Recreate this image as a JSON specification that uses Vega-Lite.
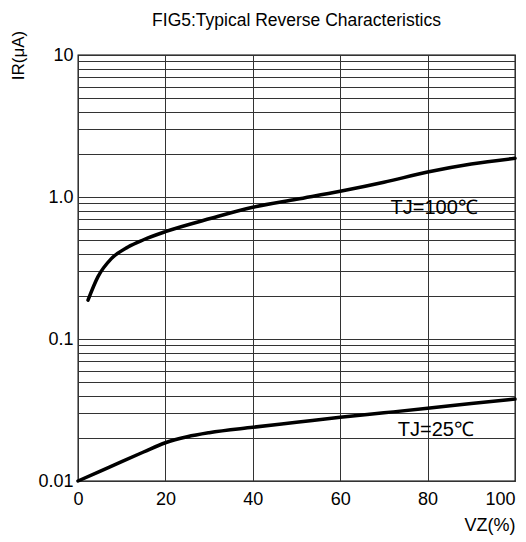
{
  "$schema": "https://vega.github.io/schema/vega-lite/v6.json",
  "width": 437,
  "height": 426,
  "autosize": "none",
  "padding": {"left": 78, "top": 55, "right": 11, "bottom": 61},
  "background": "white",
  "title": {
    "text": "FIG5:Typical Reverse Characteristics",
    "fontSize": 17.5,
    "font": "Liberation Sans",
    "fontWeight": "normal",
    "color": "#000",
    "frame": "group",
    "anchor": "middle",
    "offset": 1
  },
  "config": {
    "view": {"stroke": "#000", "strokeWidth": 1.3},
    "font": "Liberation Sans"
  },
  "datasets": {
    "curves": [
      {"series": "TJ=100", "vz": 2.29, "ir": 0.188},
      {"series": "TJ=100", "vz": 4.58, "ir": 0.275},
      {"series": "TJ=100", "vz": 7.63, "ir": 0.368},
      {"series": "TJ=100", "vz": 11.45, "ir": 0.445},
      {"series": "TJ=100", "vz": 15, "ir": 0.5},
      {"series": "TJ=100", "vz": 20, "ir": 0.57},
      {"series": "TJ=100", "vz": 30.5, "ir": 0.708},
      {"series": "TJ=100", "vz": 40, "ir": 0.846},
      {"series": "TJ=100", "vz": 50, "ir": 0.964},
      {"series": "TJ=100", "vz": 60, "ir": 1.097},
      {"series": "TJ=100", "vz": 70, "ir": 1.27},
      {"series": "TJ=100", "vz": 80, "ir": 1.5},
      {"series": "TJ=100", "vz": 90, "ir": 1.708},
      {"series": "TJ=100", "vz": 100, "ir": 1.873},
      {"series": "TJ=25", "vz": 0, "ir": 0.01},
      {"series": "TJ=25", "vz": 5, "ir": 0.0117},
      {"series": "TJ=25", "vz": 10, "ir": 0.0137},
      {"series": "TJ=25", "vz": 15, "ir": 0.016},
      {"series": "TJ=25", "vz": 20, "ir": 0.0186},
      {"series": "TJ=25", "vz": 25, "ir": 0.0205},
      {"series": "TJ=25", "vz": 30, "ir": 0.0219},
      {"series": "TJ=25", "vz": 40, "ir": 0.0239},
      {"series": "TJ=25", "vz": 50, "ir": 0.0259},
      {"series": "TJ=25", "vz": 60, "ir": 0.0281},
      {"series": "TJ=25", "vz": 70, "ir": 0.0302},
      {"series": "TJ=25", "vz": 80, "ir": 0.0325},
      {"series": "TJ=25", "vz": 90, "ir": 0.0351},
      {"series": "TJ=25", "vz": 100, "ir": 0.0378}
    ],
    "labels": [
      {"label": "TJ=100℃", "vz": 81.5, "ir": 0.83},
      {"label": "TJ=25℃", "vz": 81.9, "ir": 0.0227}
    ]
  },
  "layer": [
    {
      "data": {"name": "curves"},
      "mark": {"type": "line", "color": "#000", "strokeWidth": 3.5, "interpolate": "monotone", "strokeCap": "round"},
      "encoding": {
        "x": {
          "field": "vz",
          "type": "quantitative",
          "scale": {"domain": [0, 100], "nice": false},
          "axis": {
            "values": [0, 20, 40, 60, 80, 100],
            "title": "VZ(%)",
            "titleFont": "Liberation Sans",
            "titleFontSize": 18,
            "titleFontWeight": "normal",
            "titleColor": "#000",
            "titleAnchor": "end",
            "titleAlign": "right",
            "titleBaseline": "middle",
            "titleX": 437,
            "titleY": 44,
            "labelFont": "Liberation Sans",
            "labelFontSize": 18,
            "labelColor": "#000",
            "labelPadding": 9,
            "labelFlush": false,
            "labelOverlap": false,
            "labelAlign": {"condition": {"test": "datum.value == 100", "value": "right"}, "value": "center"},
            "labelDx": {"condition": {"test": "datum.value == 100", "value": 2}, "value": 0},
            "ticks": false,
            "domain": false,
            "grid": true,
            "gridColor": "#333",
            "gridWidth": 1,
            "gridOpacity": 1
          }
        },
        "y": {
          "field": "ir",
          "type": "quantitative",
          "scale": {"type": "log", "domain": [0.01, 10], "nice": false},
          "axis": {
            "values": [0.01, 0.02, 0.03, 0.04, 0.05, 0.06, 0.07, 0.08, 0.09, 0.1, 0.2, 0.3, 0.4, 0.5, 0.6, 0.7, 0.8, 0.9, 1, 2, 3, 4, 5, 6, 7, 8, 9, 10],
            "labelExpr": "datum.value == 10 ? '10' : datum.value == 1 ? '1.0' : datum.value == 0.1 ? '0.1' : datum.value == 0.01 ? '0.01' : ''",
            "title": "IR(μA)",
            "titleFont": "Liberation Sans",
            "titleFontSize": 17,
            "titleFontWeight": "normal",
            "titleColor": "#000",
            "titleAngle": -90,
            "titleAlign": "center",
            "titleBaseline": "middle",
            "titleX": -60,
            "titleY": 0,
            "labelFont": "Liberation Sans",
            "labelFontSize": 18,
            "labelColor": "#000",
            "labelPadding": 5,
            "labelOverlap": false,
            "labelFlush": false,
            "labelBaseline": "middle",
            "labelDy": 2,
            "ticks": false,
            "domain": false,
            "grid": true,
            "gridColor": "#333",
            "gridWidth": 1,
            "gridOpacity": 1
          }
        },
        "detail": {"field": "series"}
      }
    },
    {
      "data": {"name": "labels"},
      "mark": {"type": "text", "fontSize": 20, "font": "Liberation Sans", "color": "#000"},
      "encoding": {
        "x": {"field": "vz", "type": "quantitative"},
        "y": {"field": "ir", "type": "quantitative"},
        "text": {"field": "label"}
      }
    }
  ]
}
